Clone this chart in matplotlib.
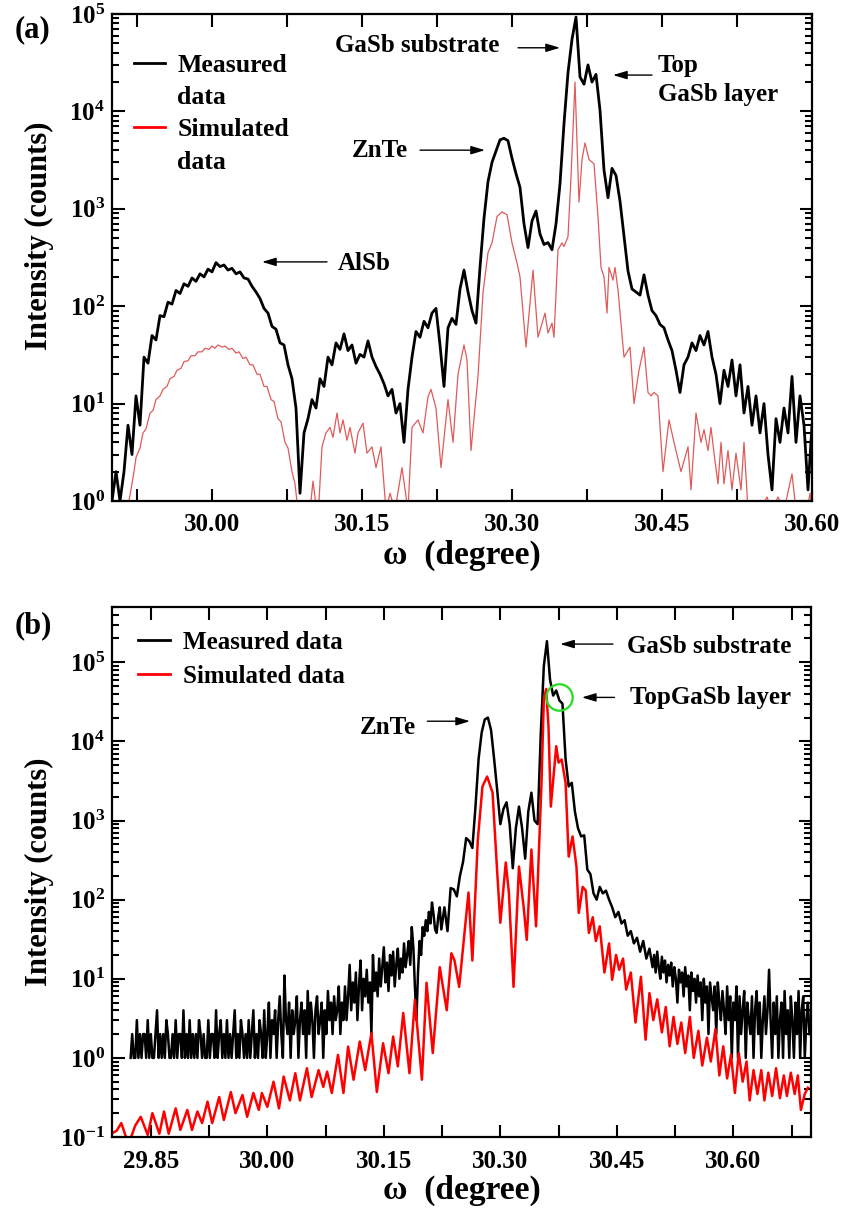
import numpy as np
import matplotlib
matplotlib.use('Agg')
import matplotlib.pyplot as plt
from matplotlib.lines import Line2D
from matplotlib.ticker import LogLocator, MultipleLocator, FuncFormatter, NullFormatter

plt.rcParams['font.family'] = ['Liberation Serif', 'DejaVu Serif']
plt.rcParams['font.weight'] = 'bold'
plt.rcParams['axes.labelweight'] = 'bold'
plt.rcParams['mathtext.fontset'] = 'custom'
plt.rcParams['mathtext.rm'] = 'Liberation Serif:bold'
plt.rcParams['mathtext.bf'] = 'Liberation Serif:bold'
plt.rcParams['mathtext.it'] = 'Liberation Serif:bold:italic'

# ---- panel (a): measured scan, uniform omega step ----
a_meas_start = 29.900
a_meas_step = 0.004
a_meas_y = [
    1, 2, 1, 2, 6, 3, 12, 6, 30, 26,
    50, 45, 80, 78, 110, 105, 145, 135, 170, 160,
    195, 180, 215, 200, 240, 225, 280, 255, 265, 235,
    245, 215, 225, 195, 190, 160, 140, 120, 95, 85,
    62, 58, 42, 40, 25, 18, 9, 1.2, 5, 7,
    11, 9, 18, 15, 30, 25, 42, 36, 52, 35,
    40, 26, 32, 30, 44, 30, 24, 20, 16, 12,
    14, 8, 10, 4, 14, 30, 55, 48, 70, 60,
    85, 95, 40, 15, 60, 75, 65, 150, 235, 140,
    90, 67, 250, 800, 1900, 3000, 3900, 5100, 5300, 5000,
    3300, 2300, 1660, 700, 400, 750, 950, 550, 430, 450,
    380, 700, 1800, 7500, 25000, 55000, 93000, 22600, 19000, 30000,
    20000, 24000, 10300, 2500, 1300, 2600, 2200, 1200, 520, 230,
    150, 140, 130, 210, 130, 90, 80, 65, 60, 45,
    35, 22, 13, 25, 30, 42, 35, 50, 40, 55,
    30, 20, 10, 22, 15, 28, 12, 25, 8, 15,
    6, 12, 5, 10, 3, 1.3, 7, 4, 9, 5,
    19, 4, 12, 6, 1.3, 6]

# ---- panel (a): simulated curve (omega, counts) ----
a_sim_pts = [
    (29.917, 1.0), (29.922, 2.0), (29.924, 2.8), (29.928, 3.5), (29.931, 5), (29.934, 5.5),
    (29.938, 8), (29.941, 8.5), (29.944, 11), (29.948, 12), (29.951, 14), (29.955, 15),
    (29.958, 18), (29.962, 19), (29.965, 22), (29.969, 23), (29.972, 27), (29.976, 27.5),
    (29.979, 31), (29.983, 31), (29.986, 34), (29.990, 34), (29.993, 37), (29.997, 36),
    (30.000, 39), (30.003, 37), (30.006, 40), (30.010, 38), (30.013, 39), (30.017, 36),
    (30.020, 37), (30.024, 33), (30.027, 34), (30.031, 29), (30.034, 30), (30.038, 25),
    (30.041, 25), (30.045, 20), (30.048, 20), (30.052, 15), (30.055, 15), (30.059, 11),
    (30.062, 10.5), (30.066, 7), (30.069, 6.5), (30.073, 4), (30.076, 3.5), (30.080, 2),
    (30.083, 1.5), (30.086, 0.8), (30.096, 0.5), (30.099, 1.0), (30.101, 1.6), (30.104, 0.9),
    (30.107, 1.0), (30.110, 3.6), (30.114, 5), (30.118, 5.7), (30.121, 4.5), (30.125, 8),
    (30.128, 5), (30.131, 6.8), (30.135, 4.2), (30.138, 5.7), (30.143, 3.1), (30.146, 5),
    (30.151, 6.3), (30.155, 3.1), (30.160, 3.6), (30.164, 2.2), (30.169, 3.6), (30.174, 0.8),
    (30.178, 1.2), (30.183, 0.8), (30.190, 2.2), (30.196, 0.8), (30.200, 5.7), (30.206, 6.8),
    (30.211, 5), (30.216, 11.7), (30.219, 14), (30.224, 9), (30.229, 2.2), (30.236, 11),
    (30.241, 4), (30.246, 20), (30.252, 40), (30.255, 28), (30.259, 3.3), (30.266, 19),
    (30.271, 137), (30.276, 354), (30.280, 447), (30.285, 830), (30.290, 930), (30.295, 870),
    (30.300, 447), (30.305, 278), (30.308, 200), (30.314, 38), (30.321, 235), (30.326, 48),
    (30.333, 85), (30.336, 53), (30.340, 67), (30.342, 48), (30.346, 380), (30.350, 447),
    (30.352, 410), (30.356, 516), (30.359, 2130), (30.363, 20000), (30.365, 4750), (30.367, 1170),
    (30.370, 3200), (30.373, 4750), (30.377, 3200), (30.382, 2900), (30.386, 830), (30.389, 250),
    (30.392, 200), (30.395, 85), (30.397, 250), (30.401, 185), (30.403, 250), (30.406, 147),
    (30.412, 30), (30.418, 38), (30.422, 10), (30.427, 22), (30.432, 38), (30.436, 13),
    (30.439, 12), (30.442, 13), (30.446, 12), (30.451, 2), (30.457, 6.8), (30.462, 4),
    (30.469, 2), (30.476, 3.6), (30.479, 1.3), (30.484, 8), (30.489, 4), (30.492, 5.4),
    (30.496, 3.3), (30.499, 5.7), (30.502, 3.1), (30.506, 1.5), (30.509, 4), (30.512, 1.5),
    (30.516, 3.3), (30.520, 1.3), (30.524, 3.1), (30.529, 1.3), (30.532, 4), (30.536, 0.8),
    (30.545, 0.7), (30.555, 1.1), (30.560, 0.8), (30.566, 1.1), (30.572, 0.8), (30.580, 1.9),
    (30.584, 0.8), (30.595, 0.8), (30.598, 1.2), (30.600, 0.8)]

# ---- panel (b): measured scan, three segments with their own step ----
b_lo_start, b_lo_step = 29.824, 0.002
b_lo_y = [
    1, 2, 1, 1, 3, 1, 2, 1, 2, 2,
    1, 3, 1, 2, 1, 1, 2, 4, 1, 2,
    1, 2, 1, 3, 2, 1, 1, 2, 1, 3,
    1, 2, 2, 1, 4, 1, 2, 1, 3, 1,
    2, 1, 2, 1, 3, 2, 1, 2, 1, 1,
    3, 1, 2, 2, 1, 4, 1, 2, 3, 1,
    2, 1, 3, 1, 2, 1, 2, 4, 1, 2,
    1, 3, 2, 1, 2, 1, 3, 1, 2, 4,
    1, 2, 1, 3, 2, 1, 4, 1,
    2, 5, 1, 3, 2, 4, 1, 3, 6, 2,
    1, 11, 3, 2, 5, 1, 4, 2, 3, 6,
    1, 3, 5, 2, 4, 1, 7, 2, 5, 3,
    1, 4, 6, 2, 3, 5, 1, 4, 2, 7,
    3, 5, 2, 6, 3, 4, 8, 2, 5, 3,
    8, 3, 6, 15, 4, 9, 5, 12, 3, 8,
    17, 4, 10, 6, 13, 5, 9, 2, 20, 7,
    12, 6, 18, 8, 14, 25, 9, 16, 7, 20,
    11, 22, 8, 15, 24, 10, 18, 12, 28, 14,
    20, 30, 15, 45, 25, 8, 3, 12, 30, 20,
    45, 35, 55, 40, 70, 50, 92, 65, 42, 38, 60, 80]

b_mid_start, b_mid_step = 30.224, 0.004
b_mid_y = [
    42, 80, 40, 140, 135, 110,
    200, 300, 600, 550, 450,
    1500, 6000, 13000, 19000, 20000, 14000, 6000, 2400, 900, 1400,
    1700, 900, 250, 800, 1500, 800, 330, 1300, 2250, 1000,
    900, 12000, 90000, 185000, 60000, 38000, 44000, 33000, 30000, 6000,
    2700, 3000, 1300, 800, 630, 650, 240, 210, 120, 100,
    145, 120, 130, 100, 80, 60, 70, 50, 55, 35,
    40, 28, 33, 22, 30, 18, 24, 14]

b_tail_start, b_tail_step = 30.498, 0.002
b_tail_y = [
    20, 12, 22, 14, 10, 19, 12, 17, 9, 15, 11,
    16, 8, 14, 10, 5, 13, 9, 12, 6, 14, 8, 11, 4, 12, 7, 10, 5, 11, 6, 9,
    3, 10, 5, 8, 2, 9, 6, 4, 8, 2, 9, 5, 3, 7, 4, 2, 8, 3, 6, 1,
    5, 3, 8, 1, 6, 2, 4, 7, 1, 5, 3, 2, 6, 1, 4, 7, 2, 5, 1, 3,
    6, 2, 4, 13, 3, 1, 5, 2, 6, 1, 3, 5, 1, 7, 2, 4, 1, 6, 3, 1,
    5, 2, 7, 1, 4, 6, 1, 3, 5, 2]

# ---- panel (b): simulated curve (omega, counts) ----
b_sim_pts = [
    (29.799, 0.11), (29.806, 0.12), (29.812, 0.15), (29.818, 0.10), (29.824, 0.096), (29.830, 0.14),
    (29.837, 0.18), (29.846, 0.106), (29.852, 0.20), (29.861, 0.11), (29.867, 0.21), (29.873, 0.11),
    (29.882, 0.23), (29.888, 0.123), (29.897, 0.22), (29.903, 0.123), (29.910, 0.21), (29.916, 0.15),
    (29.923, 0.28), (29.929, 0.15), (29.938, 0.32), (29.944, 0.164), (29.953, 0.37), (29.959, 0.20),
    (29.968, 0.34), (29.974, 0.18), (29.982, 0.36), (29.989, 0.22), (29.993, 0.36), (30.000, 0.24),
    (30.008, 0.50), (30.015, 0.23), (30.021, 0.58), (30.029, 0.29), (30.036, 0.64), (30.042, 0.29),
    (30.051, 0.74), (30.057, 0.32), (30.066, 0.70), (30.072, 0.43), (30.077, 0.67), (30.083, 0.36),
    (30.091, 1.09), (30.098, 0.36), (30.104, 1.39), (30.111, 0.53), (30.119, 1.61), (30.126, 0.70),
    (30.134, 2.05), (30.141, 0.37), (30.149, 1.53), (30.156, 0.64), (30.162, 1.86), (30.168, 0.78),
    (30.175, 3.7), (30.183, 0.64), (30.190, 5.4), (30.199, 0.53), (30.205, 8.9), (30.213, 1.15),
    (30.222, 14), (30.231, 4), (30.237, 21), (30.241, 17), (30.247, 7.9), (30.259, 123),
    (30.264, 17), (30.271, 570), (30.277, 2700), (30.283, 3600), (30.290, 2250), (30.296, 220),
    (30.300, 51), (30.307, 295), (30.311, 123), (30.317, 7.9), (30.324, 262), (30.330, 81),
    (30.334, 31), (30.340, 430), (30.346, 46), (30.353, 3000), (30.356, 34000), (30.359, 46000),
    (30.362, 15500), (30.365, 1500), (30.372, 8700), (30.375, 5400), (30.379, 5900), (30.384, 3000),
    (30.388, 350), (30.393, 630), (30.398, 262), (30.401, 68), (30.406, 145), (30.410, 130),
    (30.414, 38), (30.419, 60), (30.423, 30), (30.428, 46), (30.434, 12), (30.440, 28),
    (30.444, 9.7), (30.449, 20), (30.453, 13), (30.458, 18), (30.462, 7.3), (30.468, 12),
    (30.474, 2.8), (30.481, 10.6), (30.487, 1.7), (30.492, 6.6), (30.497, 3), (30.502, 5.5),
    (30.508, 2.1), (30.513, 4.4), (30.518, 1.4), (30.523, 3.3), (30.528, 1.5), (30.533, 2.8),
    (30.538, 1.15), (30.544, 3.3), (30.549, 1.0), (30.555, 2.2), (30.560, 0.8), (30.566, 1.8),
    (30.571, 0.9), (30.577, 2.3), (30.582, 0.6), (30.587, 1.4), (30.592, 0.55), (30.597, 1.1),
    (30.602, 0.36), (30.607, 1.15), (30.612, 0.5), (30.617, 0.9), (30.621, 0.29), (30.626, 0.70),
    (30.631, 0.35), (30.636, 0.7), (30.640, 0.29), (30.645, 0.65), (30.650, 0.33), (30.655, 0.74),
    (30.660, 0.31), (30.665, 0.6), (30.669, 0.33), (30.674, 0.65), (30.679, 0.35), (30.683, 0.6),
    (30.687, 0.22), (30.692, 0.35), (30.696, 0.42)]

# highlight circle on top GaSb layer in (b)
circle_x, circle_y = 30.375, 3.6e4

a_meas_x = a_meas_start + a_meas_step * np.arange(len(a_meas_y))
b_meas_x = np.concatenate([b_lo_start + b_lo_step * np.arange(len(b_lo_y)),
                           b_mid_start + b_mid_step * np.arange(len(b_mid_y)),
                           b_tail_start + b_tail_step * np.arange(len(b_tail_y))])
b_meas_y = np.array(b_lo_y + b_mid_y + b_tail_y, dtype=float)
a_sim_x, a_sim_y = zip(*a_sim_pts)
b_sim_x, b_sim_y = zip(*b_sim_pts)

fig = plt.figure(figsize=(8.48, 12.16), dpi=100)
ax_a = fig.add_axes([112 / 848, 1 - 501 / 1216, 700 / 848, 487 / 1216])
ax_b = fig.add_axes([112 / 848, 1 - 1137 / 1216, 699 / 848, 530 / 1216])


def style(ax, xlim, ylim, ylab_y, xlab_y):
    ax.set_yscale('log')
    ax.set_xlim(*xlim)
    ax.set_ylim(*ylim)
    ax.xaxis.set_major_locator(MultipleLocator(0.15))
    ax.xaxis.set_minor_locator(MultipleLocator(0.075))
    ax.xaxis.set_major_formatter(FuncFormatter(lambda v, p: '%.2f' % v))
    ax.yaxis.set_major_locator(LogLocator(base=10, numticks=20))
    ax.yaxis.set_minor_locator(LogLocator(base=10, subs=range(2, 10), numticks=20))
    ax.yaxis.set_minor_formatter(NullFormatter())
    ax.yaxis.set_major_formatter(FuncFormatter(lambda v, p: r'$10^{%d}$' % round(np.log10(v))))
    ax.tick_params(which='both', direction='in', top=True, right=True, width=1.5)
    ax.tick_params(which='major', length=9)
    ax.tick_params(axis='x', which='minor', length=9)
    ax.tick_params(axis='y', which='minor', length=5)
    ax.tick_params(axis='x', pad=9, labelsize=18)
    ax.tick_params(axis='y', pad=5, labelsize=18)
    for s in ax.spines.values():
        s.set_linewidth(1.6)
    ax.set_ylabel('Intensity (counts)', fontsize=22)
    ax.yaxis.set_label_coords(-0.083, ylab_y)
    ax.set_xlabel('ω  (degree)', fontsize=24)
    ax.xaxis.set_label_coords(0.5, xlab_y)


def arrow(ax, x0, x1, y):
    ax.annotate('', xy=(x1, y), xytext=(x0, y),
                arrowprops=dict(arrowstyle='-|>,head_length=0.6,head_width=0.18',
                                color='k', lw=1.0, shrinkA=0, shrinkB=0, mutation_scale=14))


# ---------------- panel (a) ----------------
ax_a.plot(a_sim_x, a_sim_y, color='#e05a5a', lw=0.9)
ax_a.plot(a_meas_x, a_meas_y, color='k', lw=2.0)
style(ax_a, (29.90, 30.60), (1, 1e5), 0.544, -0.08)

blank = Line2D([], [], lw=0)
ax_a.legend([Line2D([], [], color='k', lw=2), blank, Line2D([], [], color='red', lw=2), blank],
            ['Measured', 'data', 'Simulated', 'data'], loc='upper left',
            bbox_to_anchor=(0.031, 0.918), borderaxespad=0, borderpad=0, frameon=False,
            fontsize=18.5, handlelength=1.2, handletextpad=0.5, labelspacing=0.36)

ax_a.text(30.123, 4.7e4, 'GaSb substrate', fontsize=18, va='center', ha='left')
arrow(ax_a, 30.306, 30.348, 4.5e4)
ax_a.text(30.446, 2.1e4, 'Top\nGaSb layer', fontsize=18, va='center', ha='left', linespacing=1.3)
arrow(ax_a, 30.440, 30.401, 2.36e4)
ax_a.text(30.140, 4.0e3, 'ZnTe', fontsize=18, va='center', ha='left')
arrow(ax_a, 30.208, 30.273, 4.0e3)
ax_a.text(30.126, 2.77e2, 'AlSb', fontsize=18, va='center', ha='left')
arrow(ax_a, 30.115, 30.050, 2.85e2)
fig.text(33 / 848, 1 - 30 / 1216, '(a)', fontsize=22, ha='center', va='center')

# ---------------- panel (b) ----------------
ax_b.plot(b_meas_x, b_meas_y, color='k', lw=1.8)
ax_b.plot(b_sim_x, b_sim_y, color='#ff0000', lw=1.8)
style(ax_b, (29.80, 30.70), (0.1, 5e5), 0.5, -0.072)
ax_b.plot([circle_x], [circle_y], marker='o', ms=19, mfc='none', mec='#22dd22', mew=1.6)

ax_b.legend([Line2D([], [], color='k', lw=2), Line2D([], [], color='red', lw=2)],
            ['Measured data', 'Simulated data'], loc='upper left',
            bbox_to_anchor=(0.037, 0.955), borderaxespad=0, borderpad=0, frameon=False,
            fontsize=18, handlelength=1.28, handletextpad=0.52, labelspacing=0.44)

ax_b.text(30.463, 1.6e5, 'GaSb substrate', fontsize=18, va='center', ha='left')
arrow(ax_b, 30.445, 30.377, 1.7e5)
ax_b.text(30.467, 3.6e4, 'TopGaSb layer', fontsize=18, va='center', ha='left')
arrow(ax_b, 30.447, 30.405, 3.6e4)
ax_b.text(30.119, 1.5e4, 'ZnTe', fontsize=18, va='center', ha='left')
arrow(ax_b, 30.206, 30.261, 1.8e4)
fig.text(33 / 848, 1 - 626 / 1216, '(b)', fontsize=22, ha='center', va='center')

fig.savefig('out.png', dpi=100)
